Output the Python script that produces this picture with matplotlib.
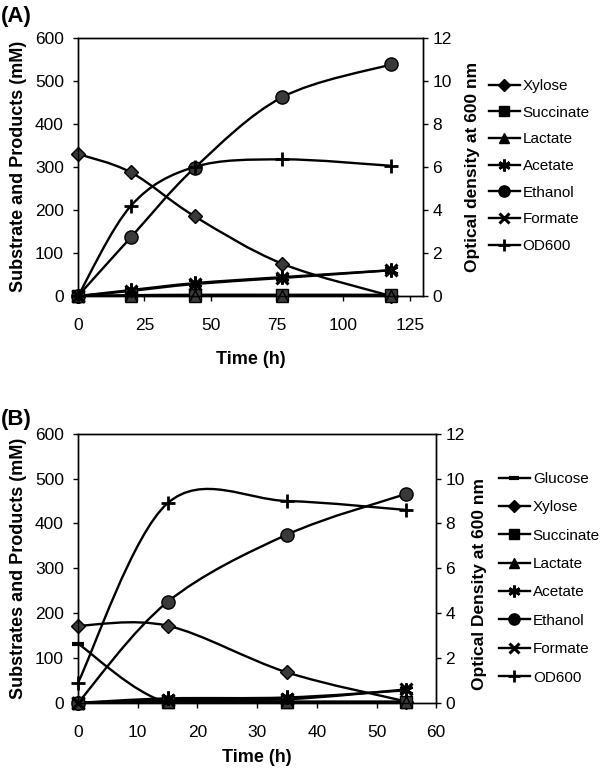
import matplotlib
matplotlib.use("Agg")
import matplotlib.pyplot as plt
import numpy as np
from matplotlib.path import Path
from matplotlib.patches import PathPatch
from matplotlib.lines import Line2D

plt.rcParams['font.family'] = ['Liberation Sans', 'DejaVu Sans']

# ---- Panel A data (xylose fermentation) ----
time_a = [0, 20, 44, 77, 118]
xylose_a = [330, 287, 185, 75, 0]
succinate_a = [0, 2, 3, 3, 3]
lactate_a = [0, 1, 1, 1, 1]
acetate_a = [0, 14, 30, 44, 60]
ethanol_a = [0, 137, 298, 462, 538]
formate_a = [0, 12, 28, 42, 60]
od600_a = [0, 4.2, 6.0, 6.35, 6.05]

# ---- Panel B data (glucose + xylose) ----
time_b = [0, 15, 35, 55]
glucose_b = [132, 0, 0, 0]
xylose_b = [172, 172, 68, 3]
succinate_b = [0, 3, 3, 3]
lactate_b = [0, 1, 1, 1]
acetate_b = [0, 10, 12, 28]
ethanol_b = [0, 225, 375, 466]
formate_b = [0, 6, 8, 30]
od600_b = [0.9, 8.9, 9.0, 8.6]

MFC = '#3a3a3a'
LW = 1.7
TICK_FS = 12.5
LAB_FS = 13


def smooth_path(x, y):
    # Excel-style smoothed line: Catmull-Rom segments as cubic Beziers
    pts = np.column_stack([x, y]).astype(float)
    n = len(pts)
    verts = [pts[0]]
    codes = [Path.MOVETO]
    for i in range(n - 1):
        p0 = pts[max(i - 1, 0)]
        p1 = pts[i]
        p2 = pts[i + 1]
        p3 = pts[min(i + 2, n - 1)]
        verts += [p1 + (p2 - p0) / 6, p2 - (p3 - p1) / 6, p2]
        codes += [Path.CURVE4] * 3
    return Path(verts, codes)


def draw_series(ax, x, y, marker, ms, mew=1.0):
    ax.add_patch(PathPatch(smooth_path(x, y), fill=False, lw=LW,
                           edgecolor='black', zorder=2, capstyle='round'))
    ax.plot(x, y, linestyle='none', marker=marker, markersize=ms,
            markerfacecolor=MFC, markeredgecolor='black',
            markeredgewidth=mew, zorder=3, clip_on=False)
    return Line2D([], [], color='black', lw=LW, marker=marker,
                  markersize=ms * 0.85, markerfacecolor='black',
                  markeredgecolor='black', markeredgewidth=mew)


def style_axes(ax, ax2):
    ax.tick_params(axis='x', direction='out', length=3.6, width=1,
                   labelsize=TICK_FS, pad=12.5)
    ax.tick_params(axis='y', direction='out', length=3.6, width=1,
                   labelsize=TICK_FS, pad=6.5)
    ax2.tick_params(axis='y', direction='out', length=3.6, width=1,
                    labelsize=TICK_FS, pad=3)
    for a in (ax, ax2):
        for s in a.spines.values():
            s.set_linewidth(1.0)


ASTER = (6, 2, 0)

fig = plt.figure(figsize=(6, 7.69), dpi=100)

# ================= Panel A =================
axA = fig.add_axes([0.13, 0.615, 0.575, 0.336])
axA2 = axA.twinx()
hA = []
hA.append(draw_series(axA, time_a, xylose_a, 'D', 7.5))
hA.append(draw_series(axA, time_a, succinate_a, 's', 8))
hA.append(draw_series(axA, time_a, lactate_a, '^', 8))
hA.append(draw_series(axA, time_a, acetate_a, ASTER, 10, 2.0))
hA.append(draw_series(axA, time_a, ethanol_a, 'o', 9.5))
hA.append(draw_series(axA, time_a, formate_a, 'x', 8, 2.2))
hA.append(draw_series(axA2, time_a, od600_a, '+', 10, 2.0))
labelsA = ['Xylose', 'Succinate', 'Lactate', 'Acetate', 'Ethanol', 'Formate', 'OD600']

axA.set_xlim(0, 130)
axA.set_ylim(0, 600)
axA2.set_ylim(0, 12)
axA.set_xticks([0, 25, 50, 75, 100, 125])
axA.set_yticks(range(0, 601, 100))
axA2.set_yticks(range(0, 13, 2))
axA.set_xlabel('Time (h)', fontsize=LAB_FS, fontweight='bold')
axA.set_ylabel('Substrate and Products (mM)', fontsize=LAB_FS, fontweight='bold')
axA2.set_ylabel('Optical density at 600 nm', fontsize=12.5, fontweight='bold')
axA.xaxis.set_label_coords(0.5, -0.214)
axA.yaxis.set_label_coords(-0.148, 0.5)
axA2.yaxis.set_label_coords(1.122, 0.5)
fig.text(0.002, 0.978, '(A)', fontsize=16, fontweight='bold', va='center')
style_axes(axA, axA2)

# ================= Panel B =================
axB = fig.add_axes([0.13, 0.086, 0.597, 0.35])
axB2 = axB.twinx()
hB = []
hB.append(draw_series(axB, time_b, glucose_b, '_', 9, 3.0))
hB.append(draw_series(axB, time_b, xylose_b, 'D', 7.5))
hB.append(draw_series(axB, time_b, succinate_b, 's', 8))
hB.append(draw_series(axB, time_b, lactate_b, '^', 8))
hB.append(draw_series(axB, time_b, acetate_b, ASTER, 10, 2.0))
hB.append(draw_series(axB, time_b, ethanol_b, 'o', 9.5))
hB.append(draw_series(axB, time_b, formate_b, 'x', 8, 2.2))
hB.append(draw_series(axB2, time_b, od600_b, '+', 10, 2.0))
labelsB = ['Glucose', 'Xylose', 'Succinate', 'Lactate', 'Acetate', 'Ethanol',
           'Formate', 'OD600']

axB.set_xlim(0, 60)
axB.set_ylim(0, 600)
axB2.set_ylim(0, 12)
axB.set_xticks(range(0, 61, 10))
axB.set_yticks(range(0, 601, 100))
axB2.set_yticks(range(0, 13, 2))
axB.set_xlabel('Time (h)', fontsize=LAB_FS, fontweight='bold')
axB.set_ylabel('Substrates and Products (mM)', fontsize=LAB_FS, fontweight='bold')
axB2.set_ylabel('Optical Density at 600 nm', fontsize=12.5, fontweight='bold')
axB.xaxis.set_label_coords(0.5, -0.172)
axB.yaxis.set_label_coords(-0.142, 0.5)
axB2.yaxis.set_label_coords(1.101, 0.442)
fig.text(0.002, 0.455, '(B)', fontsize=16, fontweight='bold', va='center')
style_axes(axB, axB2)

fig.legend(hA, labelsA, loc='center left', bbox_to_anchor=(0.815, 0.784),
           frameon=False, fontsize=11, handlelength=2.0, handletextpad=0.2,
           labelspacing=0.83, borderpad=0, borderaxespad=0)
fig.legend(hB, labelsB, loc='center left', bbox_to_anchor=(0.832, 0.248),
           frameon=False, fontsize=11, handlelength=2.0, handletextpad=0.2,
           labelspacing=0.94, borderpad=0, borderaxespad=0)

fig.savefig('out.png', dpi=100)
